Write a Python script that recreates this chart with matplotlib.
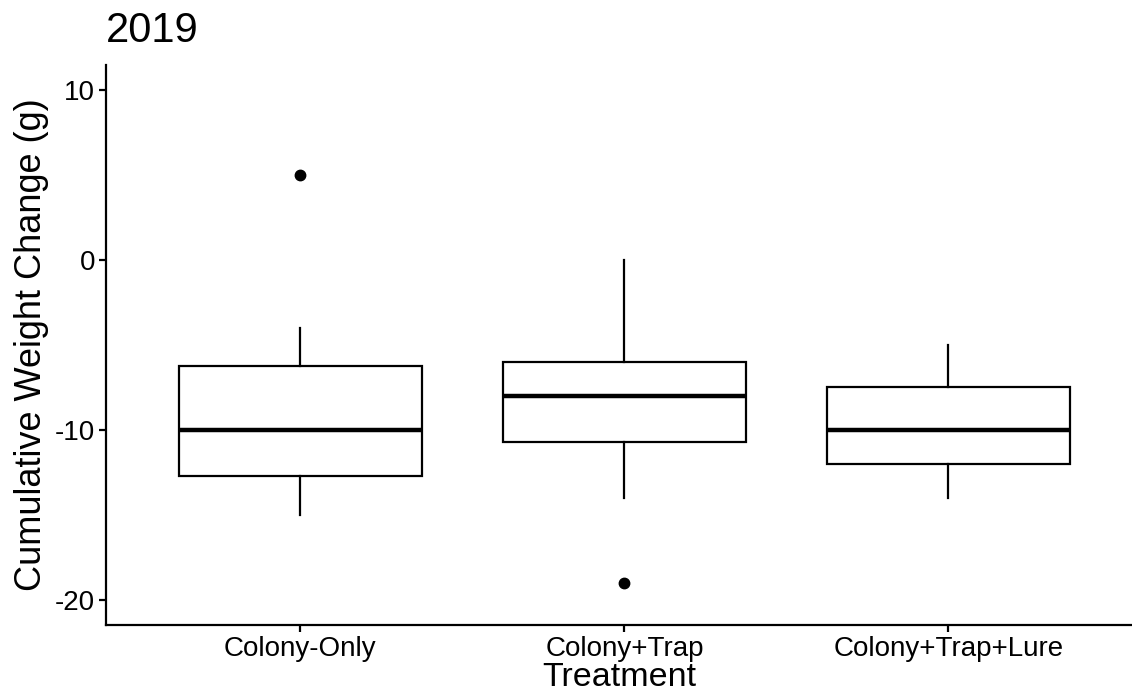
import matplotlib.pyplot as plt
import numpy as np

plt.rcParams['font.family'] = ['Liberation Sans', 'DejaVu Sans']
plt.rcParams['axes.unicode_minus'] = False

# box summary per treatment (g)
treatments = ['Colony-Only', 'Colony+Trap', 'Colony+Trap+Lure']
whislo = [-15, -14, -14]
q1 = [-12.75, -10.75, -12]
med = [-10, -8, -10]
q3 = [-6.25, -6, -7.5]
whishi = [-4, 0, -5]
outliers = [[5], [-19], []]

stats = []
for i in range(len(treatments)):
    stats.append({'label': treatments[i], 'whislo': whislo[i], 'q1': q1[i],
                  'med': med[i], 'q3': q3[i], 'whishi': whishi[i],
                  'fliers': outliers[i]})

fig = plt.figure(figsize=(11.32, 7), dpi=100)
ax = fig.add_axes([106 / 1132, 1 - 625 / 700, 1 - 106 / 1132, (625 - 64.5) / 700])

pos = np.arange(1, len(treatments) + 1)
ax.bxp(stats, positions=pos, widths=0.75, showcaps=False, patch_artist=True,
       boxprops=dict(facecolor='white', edgecolor='black', linewidth=1.6),
       whiskerprops=dict(color='black', linewidth=1.6),
       medianprops=dict(color='black', linewidth=3.2, solid_capstyle='butt'),
       flierprops=dict(marker='o', markerfacecolor='black', markeredgecolor='black',
                       markersize=7.5))

ax.set_xlim(0.4, 0.4 + (1132 - 106) / 324)
ax.set_ylim(-21.5, 11.5)
ax.set_yticks([-20, -10, 0, 10])
ax.set_xticks(pos)
ax.set_xticklabels(treatments)

for s in ['top', 'right']:
    ax.spines[s].set_visible(False)
for s in ['left', 'bottom']:
    ax.spines[s].set_linewidth(1.6)
ax.tick_params(axis='both', length=5, width=1.6, labelsize=20, colors='black', pad=3)

ax.set_xlabel('Treatment', fontsize=24.5, labelpad=0)
ax.set_ylabel('Cumulative Weight Change (g)', fontsize=26, labelpad=4)
ax.set_title('2019', fontsize=30, loc='left', pad=16)

fig.savefig('out.png', dpi=100)
